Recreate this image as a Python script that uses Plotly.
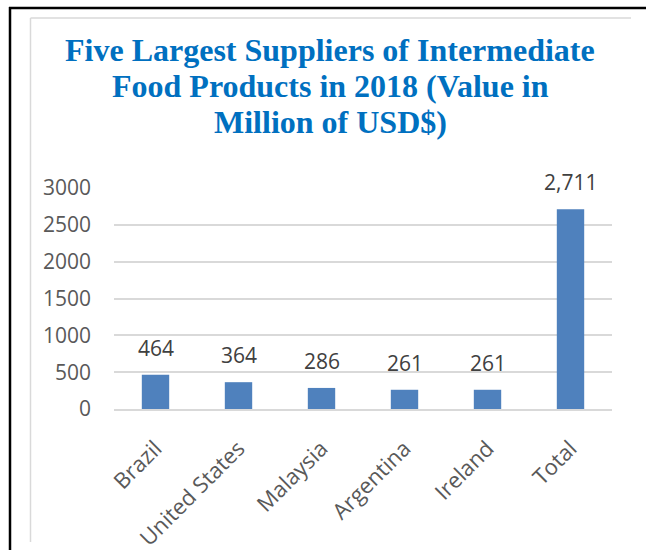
import plotly.graph_objects as go

categories = ["Brazil", "United States", "Malaysia", "Argentina", "Ireland", "Total"]
values = [464, 364, 286, 261, 261, 2711]
y_ticks = [0, 500, 1000, 1500, 2000, 2500, 3000]
title_lines = [
    "Five Largest Suppliers of Intermediate",
    "Food Products in 2018 (Value in",
    "Million of USD$)",
]

W, H = 646, 550
L, R, T, B = 114, 34, 188, 141
PW, PH = W - L - R, H - T - B


def xp(px):
    return (px - L) / PW


def yp(py):
    return (H - B - py) / PH


fig = go.Figure()
fig.add_trace(go.Bar(
    x=categories, y=values,
    marker=dict(color="#4F81BD", line=dict(width=0)),
    width=0.33,
    hoverinfo="skip",
))

for c, v in zip(categories, values):
    fig.add_annotation(
        x=c, y=v, xref="x", yref="y",
        text=f"{v:,}", showarrow=False,
        yanchor="bottom", yshift=11,
        font=dict(family="Open Sans", size=21, color="#404040"),
    )

# chart title, one annotation per line (tighter line spacing than <br>)
for i, line in enumerate(title_lines):
    fig.add_annotation(
        x=xp(330), y=yp(49.7 + 36.4 * i), xref="paper", yref="paper",
        text=f"<b>{line}</b>", showarrow=False,
        xanchor="center", yanchor="middle",
        font=dict(family="Liberation Serif", size=32, color="#0070C0"),
    )

fig.update_layout(
    width=W, height=H,
    margin=dict(l=L, r=R, t=T, b=B, autoexpand=False),
    paper_bgcolor="white", plot_bgcolor="white",
    showlegend=False,
    xaxis=dict(
        tickangle=-45,
        tickfont=dict(family="Open Sans", size=22, color="#595959"),
        showline=True, linecolor="#D9D9D9", linewidth=2,
        showgrid=False, ticks="",
        ticklabelstandoff=16,
    ),
    yaxis=dict(
        range=[0, 3000], tickvals=y_ticks,
        tickfont=dict(family="Open Sans", size=21, color="#595959"),
        showgrid=True, gridcolor="#D9D9D9", gridwidth=1.5,
        zeroline=False, showline=False, ticks="",
        ticklabelstandoff=22,
    ),
    shapes=[
        dict(type="line", xref="paper", yref="paper",
             x0=xp(10), x1=xp(10), y0=yp(7), y1=yp(H + 2),
             line=dict(color="black", width=2.5)),
        dict(type="line", xref="paper", yref="paper",
             x0=xp(9), x1=xp(W + 2), y0=yp(8), y1=yp(8),
             line=dict(color="black", width=2.5)),
        dict(type="line", xref="paper", yref="paper",
             x0=xp(30.5), x1=xp(30.5), y0=yp(18), y1=yp(542),
             line=dict(color="#D9D9D9", width=1.5)),
        dict(type="line", xref="paper", yref="paper",
             x0=xp(30.5), x1=xp(631), y0=yp(18), y1=yp(18),
             line=dict(color="#D9D9D9", width=1.5)),
    ],
)

fig.write_html(
    "out.html",
    config={"displayModeBar": False},
    post_script="document.body.style.margin='0';document.body.style.overflow='hidden';",
)
